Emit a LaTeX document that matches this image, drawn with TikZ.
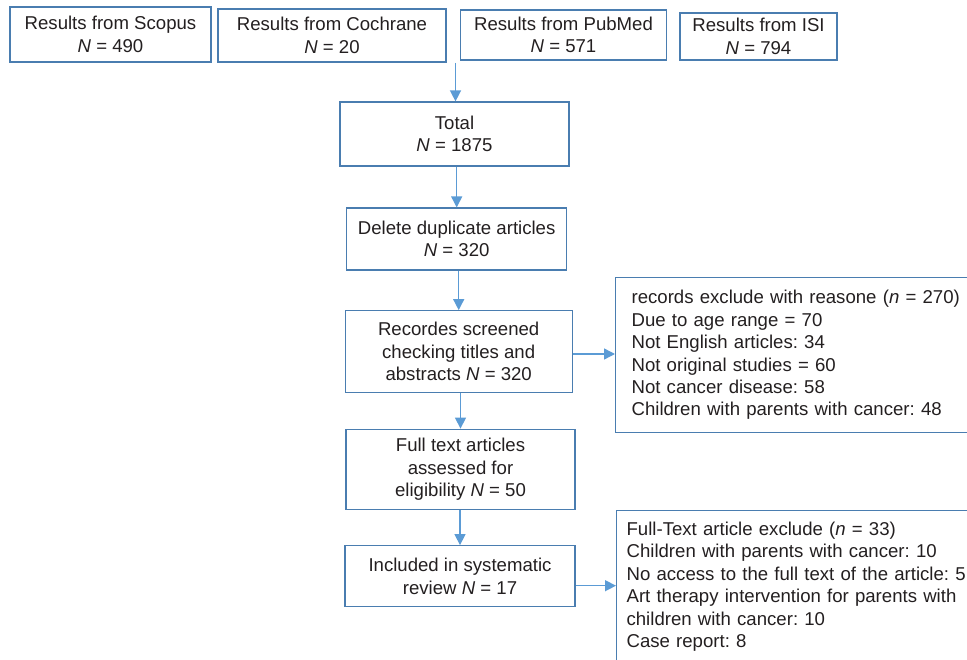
\documentclass[tikz,border=0pt]{standalone}
\usepackage{fontspec}
\setmainfont{Liberation Sans}
\usetikzlibrary{arrows.meta}
\definecolor{boxc}{HTML}{4A7DB0}
\definecolor{arrc}{HTML}{5B9BD5}
\definecolor{txtc}{HTML}{231F20}
\frenchspacing
\begin{document}
\begin{tikzpicture}[x=1pt,y=-1pt,
  box/.style={draw=boxc,line width=1.2pt,text=txtc,align=center,inner sep=0pt,
    font=\fontsize{18.6}{22.4}\selectfont},
  listbox/.style={draw=boxc,line width=1.2pt,text=txtc,align=left,anchor=north west,
    inner ysep=0pt,font=\fontsize{18.6}{22.4}\selectfont},
  arr/.style={draw=arrc,line width=1.4pt,-{Triangle[length=11pt,width=11pt]}}]
\useasboundingbox (0,0) rectangle (967,660);

\node[box,minimum width=201pt,minimum height=55pt] (scopus) at (110.5,34.5) {Results from Scopus\\\textit{N} = 490};
\node[box,minimum width=228pt,minimum height=53pt] (cochrane) at (332,35.5) {Results from Cochrane\\\textit{N} = 20};
\node[box,minimum width=206pt,minimum height=50pt] (pubmed) at (563.5,35) {Results from PubMed\\\textit{N} = 571};
\node[box,minimum width=157pt,minimum height=47pt] (isi) at (758.5,36.5) {Results from ISI\\\textit{N} = 794};

\node[box,minimum width=229pt,minimum height=64pt] (total) at (454.5,134) {Total\\\textit{N} = 1875};
\node[box,minimum width=220pt,minimum height=62pt] (delete) at (456.7,239) {Delete duplicate articles\\\textit{N} = 320};
\node[box,minimum width=227pt,minimum height=82pt] (recordes) at (458.7,351.7) {Recordes screened\\checking titles and\\abstracts \textit{N} = 320};
\node[box,minimum width=229pt,minimum height=80pt] (fulltext) at (460.5,469.2) {Full text articles\\assessed for\\eligibility \textit{N} = 50};
\node[box,minimum width=230pt,minimum height=61pt] (included) at (460,576.2) {Included in systematic\\review \textit{N} = 17};

\node[listbox,text width=370pt,inner xsep=16pt,minimum height=155pt] (excl1) at (615,277)
  {records exclude with reasone (\textit{n} = 270)\\Due to age range = 70\\Not English articles: 34\\Not original studies = 60\\Not cancer disease: 58\\Children with parents with cancer: 48};
\node[listbox,text width=370pt,inner xsep=10pt,minimum height=152pt] (excl2) at (616,510)
  {Full-Text article exclude (\textit{n} = 33)\\Children with parents with cancer: 10\\No access to the full text of the article: 5\\Art therapy intervention for parents with\\children with cancer: 10\\Case report: 8};

\coordinate (src) at (455.5,63);
\draw[arr] (src) -- (src |- total.north);
\draw[arr] (delete.north |- total.south) -- (delete.north);
\draw[arr] (recordes.north |- delete.south) -- (recordes.north);
\draw[arr] (fulltext.north |- recordes.south) -- (fulltext.north);
\draw[arr] (included.north |- fulltext.south) -- (included.north);
\draw[arr] ([yshift=-2.3pt]recordes.east) -- ([yshift=-2.3pt]recordes.east -| excl1.west);
\draw[arr] ([yshift=-9.5pt]included.east) -- ([yshift=-9.5pt]included.east -| excl2.west);
\end{tikzpicture}
\end{document}
